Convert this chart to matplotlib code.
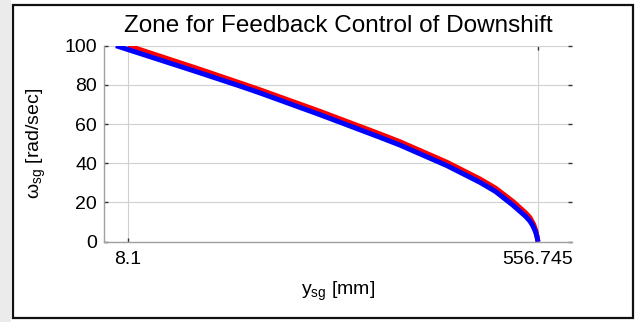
import numpy as np
import matplotlib
matplotlib.use('Agg')
import matplotlib.pyplot as plt
from matplotlib.patches import Rectangle

# Данные
x_red = [8.1, 100.0, 158.0, 184.7, 265.0, 345.0, 372.0, 435.0, 479.0, 500.0,
         523.3, 540.0, 546.0, 551.0, 554.0, 556.745]
w_red = [100.0, 88.5, 81.0, 77.5, 66.5, 55.0, 51.0, 40.5, 32.0, 27.3,
         20.5, 14.8, 12.3, 8.8, 5.5, 0.0]

x_blue = [-8.0, 100.0, 158.0, 184.7, 265.0, 345.0, 372.0, 435.0, 479.0, 500.0,
          523.0, 540.0, 546.0, 550.0, 553.5, 555.5, 556.745]
w_blue = [100.0, 86.7, 79.4, 75.9, 64.8, 53.3, 49.3, 38.8, 30.3, 25.6,
          18.7, 13.0, 10.5, 8.0, 5.0, 2.5, 0.0]

x_ticks = [8.1, 556.745]
x_ticklabels = ['8.1', '556.745']
y_ticks = [0, 20, 40, 60, 80, 100]

plt.rcParams['font.family'] = ['Liberation Sans', 'DejaVu Sans']
plt.rcParams['mathtext.fontset'] = 'custom'
plt.rcParams['mathtext.rm'] = 'Liberation Sans'
plt.rcParams['mathtext.it'] = 'Liberation Sans:italic'

fig = plt.figure(figsize=(6.36, 3.22), dpi=100)
ax = fig.add_axes([0.1635, 0.2494, 0.7358, 0.6087])

ax.plot(x_red, w_red, color='#ff0000', lw=3.6, solid_capstyle='butt')
ax.plot(x_blue, w_blue, color='#0000ff', lw=3.6, solid_capstyle='butt')

ax.set_xlim(-24.0, 602.2)
ax.set_ylim(0, 100)
ax.set_xticks(x_ticks)
ax.set_xticklabels(x_ticklabels)
ax.set_yticks(y_ticks)
ax.tick_params(direction='in', length=3, width=1, color='#333333',
               labelsize=14, top=True, right=True)
ax.tick_params(axis='x', pad=7)
ax.tick_params(axis='y', pad=5)
ax.grid(True, color='#d0d0d0', lw=0.8)
ax.set_axisbelow(True)

for side in ['top', 'right']:
    ax.spines[side].set_visible(False)
for side in ['left', 'bottom']:
    ax.spines[side].set_color('#a0a0a0')
    ax.spines[side].set_linewidth(1)

ax.set_title('Zone for Feedback Control of Downshift', fontsize=17.5, pad=10)
ax.set_xlabel(r'y$_{\rm sg}$ [mm]', fontsize=14, labelpad=8)
ax.set_ylabel(r'ω$_{\rm sg}$ [rad/sec]', fontsize=14, labelpad=12)

# Рамка вокруг рисунка и серая полоса слева
fig.patches.append(Rectangle((0, 0), 11 / 636, 1, transform=fig.transFigure,
                             facecolor='#ebebeb', edgecolor='none', zorder=0))
fig.patches.append(Rectangle((13 / 636, 4 / 322), 620 / 636, 313 / 322,
                             transform=fig.transFigure, facecolor='none',
                             edgecolor='#111111', lw=1.6, zorder=5))

fig.savefig('out.png', dpi=100)
